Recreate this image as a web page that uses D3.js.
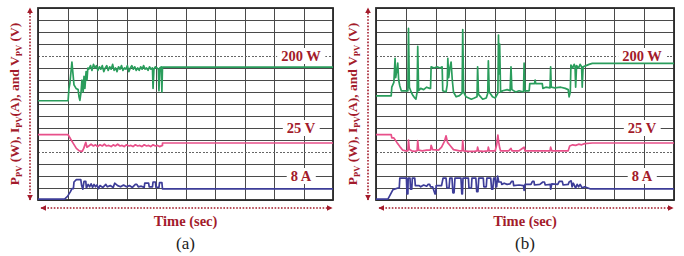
<!DOCTYPE html>
<meta charset="utf-8">
<script src="https://cdn.jsdelivr.net/npm/d3@7"></script>
<style>
body { margin: 0; background: #fff; }
svg { display: block; }
.lbl { font-family: "Liberation Serif", "DejaVu Serif", serif; font-weight: bold; fill: #a31b2b; }
.cap { font-family: "Liberation Serif", "DejaVu Serif", serif; fill: #222; }
.grid line { stroke: #4a4a4a; stroke-width: 1; shape-rendering: crispEdges; }
.grid .domain { display: none; }
</style>
<body>
<script>

// time in scope divisions (0..10), signals in vertical divisions (0..16)
var levelLabels = ["200 W", "25 V", "8 A"],
    levelRows = [12, 6, 2],
    dashedRows = [12, 4];

var powerA = [[0,8.27],[1.02,8.27],[1.05,9.3],[1.08,9.7],[1.15,11.5],[1.19,10.4],[1.22,9.6],[1.29,9.3],[1.36,9.2],[1.39,8.6],[1.42,8.3],[1.46,9.0],[1.49,10.0],[1.53,9.0],[1.56,10.3],[1.59,9.3],[1.63,10.7],[1.66,10.0],[1.69,11.0],
  [1.72,10.9],[1.78,11.2],[1.83,10.8],[1.88,11.3],[1.93,11.0],[1.98,11.2],[2.03,10.8],[2.08,11.1],[2.13,10.9],[2.18,11.2],[2.23,10.7],[2.28,11.0],[2.33,11.2],[2.38,10.8],[2.43,11.1],[2.48,10.9],[2.53,11.3],[2.58,10.8],[2.63,11.0],[2.68,10.7],[2.73,11.1],[2.78,10.9],[2.83,11.2],[2.88,10.8],[2.93,11.0],[2.98,10.9],[3.03,11.2],[3.08,10.7],[3.13,11.0],[3.18,11.2],[3.23,10.9],[3.28,11.1],[3.33,10.8],[3.38,11.0],[3.43,10.8],[3.48,11.1],[3.53,10.9],[3.58,11.2],[3.63,10.9],[3.68,11.0],[3.73,10.8],[3.78,11.1],[3.83,10.9],[3.88,11.0],[3.90,9.3],[3.93,10.9],[3.98,11.1],[4.03,11.0],[4.08,10.9],[4.10,9.1],[4.13,11.0],[4.18,11.1],[4.20,9.0],[4.22,11.08],[10,11.08]];

var voltageA = [[0,5.44],[1.02,5.44],[1.1,5.1],[1.2,4.7],[1.3,4.3],[1.4,4.1],[1.5,4.05],[1.55,4.3],[1.62,4.8],[1.66,4.4],[1.72,4.5],[1.8,4.65],[1.88,4.5],[1.95,4.6],[2.02,4.45],[2.1,4.6],[2.18,4.5],[2.25,4.65],[2.32,4.5],[2.4,4.55],[2.48,4.45],[2.55,4.6],[2.62,4.5],[2.7,4.65],[2.78,4.5],[2.85,4.55],[2.92,4.45],[3.0,4.6],[3.08,4.5],[3.15,4.55],[3.22,4.45],[3.3,4.6],[3.38,4.5],[3.45,4.55],[3.52,4.45],[3.6,4.6],[3.68,4.5],[3.75,4.55],[3.82,4.45],[3.9,4.6],[3.98,4.5],[4.05,4.55],[4.12,4.45],[4.22,4.55],[4.22,4.75],[10,4.75]];

var currentA = [[0,0.08],[0.9,0.08],[1.0,0.3],[1.1,0.7],[1.15,0.95],[1.2,0.95],[1.22,1.5],[1.3,1.7],[1.45,1.7],[1.48,1.2],[1.52,0.9],[1.56,1.55],[1.62,1.55],[1.64,1.0],[1.7,1.3],[1.75,1.1],[1.8,1.35],[1.85,1.05],[1.9,1.3],[1.95,1.1],[2.0,1.25],[2.05,0.95],[2.1,1.2],[2.2,1.05],[2.3,1.3],[2.35,1.1],[2.45,1.2],[2.55,1.05],[2.6,1.4],[2.7,1.2],[2.8,1.1],[2.9,1.25],[3.0,1.1],[3.1,1.2],[3.2,1.05],[3.3,1.3],[3.35,1.3],[3.4,1.1],[3.5,1.15],[3.6,1.05],[3.62,1.4],[3.75,1.4],[3.77,1.1],[3.88,1.1],[3.9,1.5],[3.98,1.5],[4.0,1.05],[4.1,1.05],[4.12,1.45],[4.2,1.45],[4.22,0.92],[10,0.92]];

var powerB = [[0,8.67],[0.51,8.67],[0.53,9.4],[0.6,9.8],[0.64,11.8],[0.66,10.2],[0.7,10.8],[0.73,11.4],[0.76,10.0],[0.8,9.5],[0.85,9.1],[1.07,9.1],[1.09,14.3],[1.12,9.4],[1.18,9.0],[1.24,8.7],[1.3,8.5],[1.34,8.4],[1.38,9.0],[1.40,12.8],[1.43,9.1],[1.5,9.3],[1.6,9.2],[1.7,9.4],[1.8,9.3],[1.83,9.3],[1.85,11.1],[1.95,11.0],[2.05,11.1],[2.15,11.0],[2.22,11.1],[2.24,9.1],[2.35,9.0],[2.39,9.6],[2.41,11.8],[2.44,10.2],[2.48,11.0],[2.52,11.5],[2.56,10.0],[2.6,9.0],[2.69,8.6],[2.8,8.7],[2.89,8.9],[2.91,14.2],[2.94,9.0],[3.02,8.6],[3.2,8.4],[3.3,8.5],[3.39,8.6],[3.41,11.1],[3.44,8.8],[3.58,8.4],[3.7,8.5],[3.75,8.9],[3.77,11.6],[3.8,9.0],[3.91,8.6],[4.0,8.5],[4.09,8.9],[4.11,13.75],[4.13,10.5],[4.15,13.0],[4.18,9.0],[4.25,9.1],[4.4,9.2],[4.5,9.1],[4.53,11.1],[4.56,9.2],[4.69,9.0],[4.8,9.1],[4.95,9.0],[4.97,11.4],[5.0,9.1],[5.14,9.1],[5.16,9.7],[5.32,9.7],[5.34,10.0],[5.36,9.7],[5.5,9.7],[5.58,9.7],[5.6,9.3],[5.7,9.4],[5.84,9.35],[5.86,11.1],[5.88,9.4],[6.0,9.35],[6.2,9.4],[6.35,9.3],[6.45,9.2],[6.48,8.6],[6.52,9.0],[6.54,11.25],[6.6,11.0],[6.65,11.3],[6.68,11.1],[6.7,9.4],[6.73,11.2],[6.8,11.0],[6.85,11.3],[6.9,11.1],[6.92,9.4],[6.95,11.1],[7.05,11.2],[7.15,11.3],[7.26,11.39],[10,11.39]];

var voltageB = [[0,5.44],[0.51,5.44],[0.53,5.17],[0.6,5.17],[0.7,4.8],[0.8,4.45],[0.9,4.15],[1.0,4.1],[1.07,4.1],[1.09,5.0],[1.12,4.2],[1.2,4.1],[1.3,4.05],[1.38,4.1],[1.40,4.95],[1.43,4.15],[1.55,4.1],[1.7,4.15],[1.83,4.15],[1.85,4.55],[1.9,4.2],[2.1,4.15],[2.2,4.4],[2.3,4.9],[2.35,5.35],[2.4,4.8],[2.5,4.5],[2.6,4.2],[2.8,4.1],[2.89,4.1],[2.91,4.95],[2.94,4.1],[3.1,4.05],[3.3,4.05],[3.39,4.1],[3.41,4.4],[3.44,4.1],[3.6,4.05],[3.75,4.1],[3.77,4.4],[3.8,4.1],[4.0,4.1],[4.05,4.6],[4.09,5.4],[4.12,4.8],[4.15,4.35],[4.18,4.1],[4.3,4.1],[4.45,4.1],[4.53,4.3],[4.56,4.1],[4.8,4.1],[4.97,4.4],[5.0,4.1],[5.2,4.1],[5.5,4.1],[5.84,4.1],[5.86,4.4],[5.9,4.1],[6.2,4.1],[6.45,4.1],[6.5,4.5],[6.6,4.6],[6.7,4.55],[6.8,4.65],[6.9,4.6],[7.0,4.7],[7.26,4.75],[10,4.75]];

var currentB = [[0,0.08],[0.4,0.08],[0.57,0.86],[0.74,1.0],[0.78,1.0],[0.8,1.83],[1.02,1.83],[1.04,0.5],[1.07,0.5],[1.08,1.83],[1.14,1.83],[1.16,0.9],[1.2,0.9],[1.22,1.83],[1.3,1.83],[1.32,1.2],[1.45,1.2],[1.5,1.1],[1.6,1.25],[1.7,1.15],[1.75,1.3],[1.8,1.3],[1.83,1.1],[1.9,1.1],[1.98,0.5],[2.0,0.5],[2.02,1.2],[2.2,1.2],[2.25,1.83],[2.35,1.83],[2.38,1.0],[2.45,1.0],[2.48,1.83],[2.55,1.83],[2.58,0.6],[2.62,0.6],[2.65,1.83],[2.85,1.83],[2.88,0.5],[2.9,0.5],[2.92,1.83],[3.1,1.83],[3.12,1.0],[3.2,1.0],[3.22,1.83],[3.35,1.83],[3.38,0.7],[3.42,0.7],[3.45,1.83],[3.6,1.83],[3.62,1.1],[3.7,1.1],[3.72,1.83],[3.85,1.83],[3.88,0.9],[3.92,0.9],[3.95,1.83],[4.0,1.83],[4.02,1.1],[4.05,1.1],[4.08,2.0],[4.12,1.5],[4.2,1.5],[4.22,1.3],[4.3,1.4],[4.4,1.3],[4.5,1.35],[4.55,1.55],[4.6,1.55],[4.62,1.2],[4.8,1.25],[4.95,1.2],[4.97,0.8],[5.0,1.3],[5.2,1.3],[5.25,1.55],[5.3,1.55],[5.32,1.25],[5.5,1.3],[5.6,1.5],[5.65,1.5],[5.68,1.25],[5.85,1.3],[5.86,0.9],[5.9,1.35],[6.1,1.3],[6.15,1.55],[6.25,1.55],[6.28,1.25],[6.45,1.3],[6.48,1.5],[6.55,1.6],[6.58,1.1],[6.62,1.4],[6.7,1.0],[6.75,1.3],[6.8,1.1],[6.85,1.3],[6.92,1.0],[7.0,1.1],[7.2,0.92],[10,0.92]];

var w = 684, h = 256,
    plotTop = 8, plotBottom = 200,
    red = "#a31b2b";

var colors = {power: "#2a9d5c", voltage: "#e8508a", current: "#3d3d98"};

var svg = d3.select("body").append("svg")
    .attr("width", w)
    .attr("height", h);

var defs = svg.append("defs");
defs.append("marker")
    .attr("id", "head")
    .attr("viewBox", "0 0 10 10")
    .attr("refX", 9).attr("refY", 5)
    .attr("markerWidth", 6).attr("markerHeight", 6)
    .attr("markerUnits", "userSpaceOnUse")
    .attr("orient", "auto-start-reverse")
  .append("path")
    .attr("d", "M0,0L10,5L0,10z")
    .attr("fill", red);

function panel(x0, x1, power, voltage, current, tag) {
  var x = d3.scaleLinear().domain([0, 10]).range([x0, x1]),
      y = d3.scaleLinear().domain([0, 16]).range([plotBottom, plotTop]);

  var g = svg.append("g");

  // grid
  g.append("g").attr("class", "grid")
      .attr("transform", "translate(0," + plotBottom + ")")
      .call(d3.axisBottom(x).ticks(10).tickSize(-(plotBottom - plotTop)).tickFormat(""));
  g.append("g").attr("class", "grid")
      .attr("transform", "translate(" + x0 + ",0)")
      .call(d3.axisLeft(y).ticks(16).tickSize(-(x1 - x0)).tickFormat(""))
    .selectAll(".tick line")
      .filter(function(d) { return dashedRows.indexOf(d) >= 0; })
      .style("stroke", "#666")
      .style("stroke-dasharray", "2,1.5");

  g.append("rect")
      .attr("x", x0).attr("y", plotTop)
      .attr("width", x1 - x0).attr("height", plotBottom - plotTop)
      .attr("fill", "none")
      .attr("stroke", "#2a2a2a")
      .attr("stroke-width", 1.8);

  // level labels
  levelLabels.forEach(function(t, i) {
    var lg = g.append("g");
    var txt = lg.append("text")
        .attr("class", "lbl")
        .attr("x", x1 - 32)
        .attr("y", y(levelRows[i]) + 5)
        .attr("text-anchor", "middle")
        .style("font-size", "14.5px")
        .text(t);
    var bb = txt.node().getBBox();
    lg.insert("rect", "text")
        .attr("x", bb.x - 4).attr("y", bb.y)
        .attr("width", bb.width + 8).attr("height", bb.height)
        .attr("fill", "#fff");
  });

  var line = d3.line()
      .x(function(d) { return x(d[0]); })
      .y(function(d) { return y(d[1]); });

  [[power, colors.power], [voltage, colors.voltage], [current, colors.current]].forEach(function(s) {
    g.append("path")
        .datum(s[0])
        .attr("d", line)
        .attr("fill", "none")
        .attr("stroke", s[1])
        .attr("stroke-width", 1.7)
        .attr("stroke-linejoin", "round");
  });

  // axis arrows
  g.append("line")
      .attr("x1", x0 - 8).attr("x2", x0 - 8)
      .attr("y1", plotBottom).attr("y2", plotTop)
      .attr("stroke", red).attr("stroke-width", 1.6)
      .attr("stroke-dasharray", "1.6,1.6")
      .attr("marker-start", "url(#head)")
      .attr("marker-end", "url(#head)");
  g.append("line")
      .attr("x1", x0 + 3).attr("x2", x1 - 1)
      .attr("y1", 208).attr("y2", 208)
      .attr("stroke", red).attr("stroke-width", 1.6)
      .attr("stroke-dasharray", "1.6,1.6")
      .attr("marker-start", "url(#head)")
      .attr("marker-end", "url(#head)");

  // y label
  var yl = g.append("text")
      .attr("class", "lbl")
      .attr("transform", "translate(" + (x0 - 19) + "," + ((plotTop + plotBottom) / 2) + ") rotate(-90)")
      .attr("text-anchor", "middle")
      .style("font-size", "13.5px");
  [["P", "PV", " (W), "], ["I", "PV", "(A), and "], ["V", "PV", " (V)"]].forEach(function(p) {
    yl.append("tspan").text(p[0]);
    yl.append("tspan").attr("dy", 3).style("font-size", "8.5px").text(p[1]);
    yl.append("tspan").attr("dy", -3).text(p[2]);
  });

  g.append("text")
      .attr("class", "lbl")
      .attr("x", (x0 + x1) / 2)
      .attr("y", 226)
      .attr("text-anchor", "middle")
      .style("font-size", "14.5px")
      .text("Time (sec)");

  g.append("text")
      .attr("class", "cap")
      .attr("x", (x0 + x1) / 2)
      .attr("y", 249)
      .attr("text-anchor", "middle")
      .style("font-size", "17px")
      .text(tag);
}

panel(38, 333, powerA, voltageA, currentA, "(a)");
panel(376, 674, powerB, voltageB, currentB, "(b)");

</script>
</body>
